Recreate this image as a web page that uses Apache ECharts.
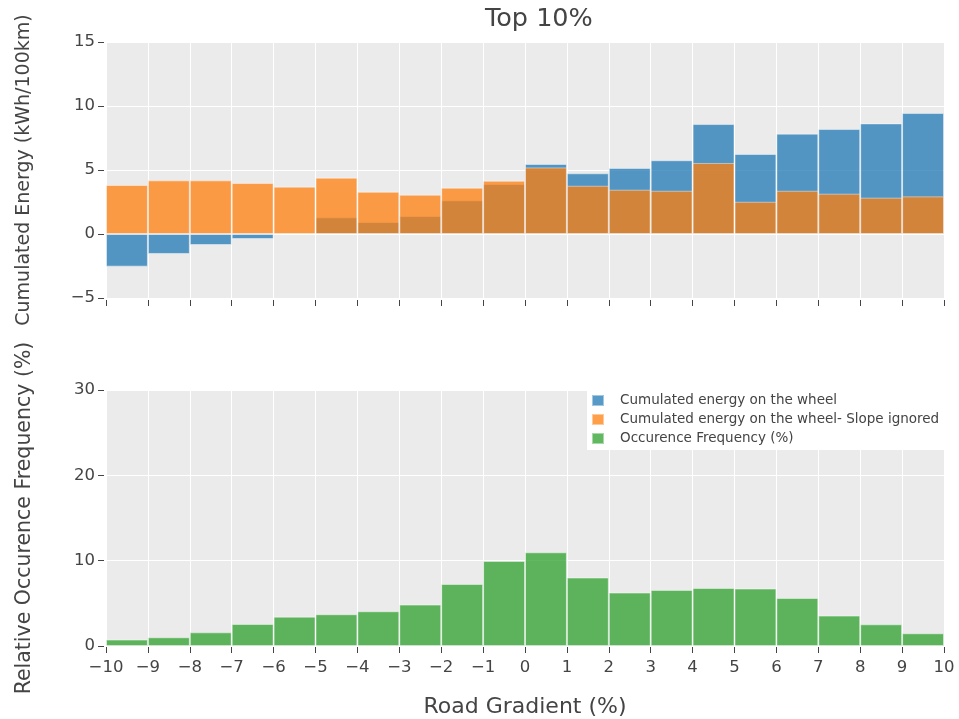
<!DOCTYPE html>
<html>
<head>
<meta charset="utf-8">
<script src="https://cdn.jsdelivr.net/npm/echarts@6/dist/echarts.min.js"></script>
<style>html,body{margin:0;padding:0;background:#fff}#c{width:959px;height:719px}</style>
</head>
<body>
<div id="c"></div>
<script>
var bins = ['-10~-9','-9~-8','-8~-7','-7~-6','-6~-5','-5~-4','-4~-3','-3~-2','-2~-1','-1~0','0~1','1~2','2~3','3~4','4~5','5~6','6~7','7~8','8~9','9~10'];
var energyWheel = [-2.55,-1.56,-0.86,-0.39,0,1.3,0.94,1.4,2.63,3.9,5.47,4.74,5.16,5.76,8.59,6.25,7.84,8.2,8.64,9.45];
var energySlopeIgnored = [3.83,4.19,4.19,3.98,3.7,4.4,3.3,3.07,3.62,4.16,5.2,3.77,3.46,3.38,5.55,2.52,3.38,3.15,2.84,2.94];
var frequency = [0.75,1.02,1.6,2.58,3.44,3.72,4.07,4.85,7.27,9.97,10.98,8.02,6.26,6.57,6.8,6.73,5.63,3.56,2.54,1.49];
var xTicks = {min:-10, max:10, interval:1};
var yTopTicks = {min:-5, max:15, interval:5};
var yBotTicks = {min:0, max:30, interval:10};

var FONT = 'DejaVu Sans';
var TXT = '#444';
function fmt(v){ return v < 0 ? '\u2212' + Math.abs(v) : String(v); }
var border = {borderColor:'rgba(255,255,255,0.45)', borderWidth:1};

var chart = echarts.init(document.getElementById('c'), null, {renderer:'canvas'});
chart.setOption({
  animation:false,
  backgroundColor:'#fff',
  textStyle:{fontFamily:FONT},
  title:{text:'Top 10%', left:485, top:6, padding:0,
    textStyle:{fontFamily:FONT, fontSize:25.5, fontWeight:'normal', color:TXT}},
  legend:{
    orient:'vertical', left:587, top:390, padding:[3,5,4,4],
    backgroundColor:'#fff', itemWidth:12, itemHeight:11, itemGap:4, icon:'rect',
    textStyle:{fontFamily:FONT, fontSize:13.5, color:TXT, lineHeight:15, padding:[0,0,0,11]},
    data:['Cumulated energy on the wheel','Cumulated energy on the wheel- Slope ignored','Occurence Frequency (%)']
  },
  grid:[
    {left:106, top:42, width:838, height:256, show:true, backgroundColor:'#ebebeb', borderWidth:0},
    {left:106, top:390, width:838, height:256, show:true, backgroundColor:'#ebebeb', borderWidth:0}
  ],
  xAxis:[
    {type:'category', gridIndex:0, data:bins, show:false, position:'bottom'},
    {type:'value', gridIndex:0, min:xTicks.min, max:xTicks.max, interval:xTicks.interval, offset:2, position:'bottom',
      axisLine:{show:false, onZero:false}, axisTick:{show:true, length:6, lineStyle:{color:TXT}},
      axisLabel:{show:false}, splitLine:{show:true, lineStyle:{color:'#fff', width:1}}},
    {type:'category', gridIndex:1, data:bins, show:false, position:'bottom'},
    {type:'value', gridIndex:1, min:xTicks.min, max:xTicks.max, interval:xTicks.interval, offset:1, position:'bottom',
      axisLine:{show:false, onZero:false}, axisTick:{show:true, length:6, lineStyle:{color:TXT}},
      axisLabel:{show:true, margin:12, formatter:fmt, fontFamily:FONT, fontSize:16.5, color:TXT},
      splitLine:{show:true, lineStyle:{color:'#fff', width:1}},
      name:'Road Gradient (%)', nameLocation:'middle', nameGap:49,
      nameTextStyle:{fontFamily:FONT, fontSize:22, color:TXT}}
  ],
  yAxis:[
    {type:'value', gridIndex:0, min:yTopTicks.min, max:yTopTicks.max, interval:yTopTicks.interval, offset:2, position:'left',
      axisLine:{show:false, onZero:false}, axisTick:{show:true, length:6, lineStyle:{color:TXT}},
      axisLabel:{margin:9, formatter:fmt, fontFamily:FONT, fontSize:16.5, color:TXT},
      splitLine:{show:true, lineStyle:{color:'#fff', width:1}},
      name:'Cumulated Energy (kWh/100km)', nameLocation:'middle', nameGap:70,
      nameTextStyle:{fontFamily:FONT, fontSize:19, color:TXT}},
    {type:'value', gridIndex:1, min:yBotTicks.min, max:yBotTicks.max, interval:yBotTicks.interval, offset:2, position:'left',
      axisLine:{show:false, onZero:false}, axisTick:{show:true, length:6, lineStyle:{color:TXT}},
      axisLabel:{margin:9, formatter:fmt, fontFamily:FONT, fontSize:16.5, color:TXT},
      splitLine:{show:true, lineStyle:{color:'#fff', width:1}},
      name:'Relative Occurence Frequency (%)', nameLocation:'middle', nameGap:69,
      nameTextStyle:{fontFamily:FONT, fontSize:20.5, color:TXT}}
  ],
  series:[
    {name:'Cumulated energy on the wheel', type:'bar', xAxisIndex:0, yAxisIndex:0,
      data:energyWheel, barCategoryGap:'0%', barGap:'-100%',
      itemStyle:Object.assign({color:'rgba(31,119,180,0.75)'}, border)},
    {name:'Cumulated energy on the wheel- Slope ignored', type:'bar', xAxisIndex:0, yAxisIndex:0,
      data:energySlopeIgnored, barCategoryGap:'0%', barGap:'-100%',
      itemStyle:Object.assign({color:'rgba(255,127,14,0.75)'}, border)},
    {name:'Occurence Frequency (%)', type:'bar', xAxisIndex:2, yAxisIndex:1,
      data:frequency, barCategoryGap:'0%',
      itemStyle:Object.assign({color:'rgba(44,160,44,0.75)'}, border)}
  ]
});
</script>
</body>
</html>
